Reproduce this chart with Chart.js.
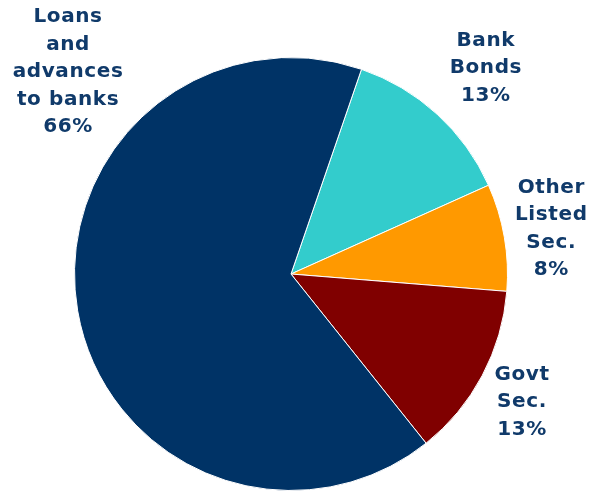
<!DOCTYPE html>
<html>
<head>
<meta charset="utf-8">
<script src="https://cdn.jsdelivr.net/npm/chart.js@4"></script>
<style>
  html, body { margin: 0; padding: 0; background: #fff; }
  #wrap { width: 593px; height: 491px; }
</style>
</head>
<body>
<div id="wrap"><canvas id="myChart"></canvas></div>
<script>
// portfolio breakdown, clockwise from the top
const categories = [
  ['Bank', 'Bonds'],
  ['Other', 'Listed', 'Sec.'],
  ['Govt', 'Sec.'],
  ['Loans', 'and', 'advances', 'to banks']
];
const shares = [13, 8, 13, 66];
const sliceColors = ['#33CCCC', '#FF9900', '#800000', '#003366'];

// where each label sits: distance as a multiple of the radius, and turn (deg) off the slice middle
const labelRadius = [1.31, 1.22, 1.22, 1.39];
const labelTurn = [1, 0, 1, 52];

const outsideLabels = {
  id: 'outsideLabels',
  afterDatasetsDraw(chart) {
    const ctx = chart.ctx;
    const arcs = chart.getDatasetMeta(0).data;
    ctx.save();
    ctx.fillStyle = '#103A6A';
    ctx.font = 'bold 20px "DejaVu Sans", Verdana, sans-serif';
    ctx.letterSpacing = '0.6px';
    ctx.textAlign = 'center';
    ctx.textBaseline = 'middle';
    const lineH = 27.5;
    arcs.forEach((arc, i) => {
      const mid = (arc.startAngle + arc.endAngle) / 2 + labelTurn[i] * Math.PI / 180;
      const r = arc.outerRadius * labelRadius[i];
      const x = arc.x + Math.cos(mid) * r;
      const y = arc.y + Math.sin(mid) * r;
      const lines = [...categories[i], shares[i] + '%'];
      const top = y - (lines.length - 1) * lineH / 2;
      lines.forEach((t, k) => ctx.fillText(t, x, top + k * lineH));
    });
    ctx.restore();
  }
};

const myChart = new Chart(document.getElementById('myChart'), {
  type: 'pie',
  data: {
    labels: categories.map(c => c.join(' ')),
    datasets: [{
      data: shares,
      backgroundColor: sliceColors,
      borderColor: '#ffffff',
      borderWidth: 1
    }]
  },
  options: {
    responsive: true,
    maintainAspectRatio: false,
    animation: false,
    rotation: 19,
    layout: { padding: { top: 57, bottom: 0, left: 74, right: 85 } },
    plugins: {
      legend: { display: false },
      tooltip: { enabled: false }
    }
  },
  plugins: [outsideLabels]
});
</script>
</body>
</html>
